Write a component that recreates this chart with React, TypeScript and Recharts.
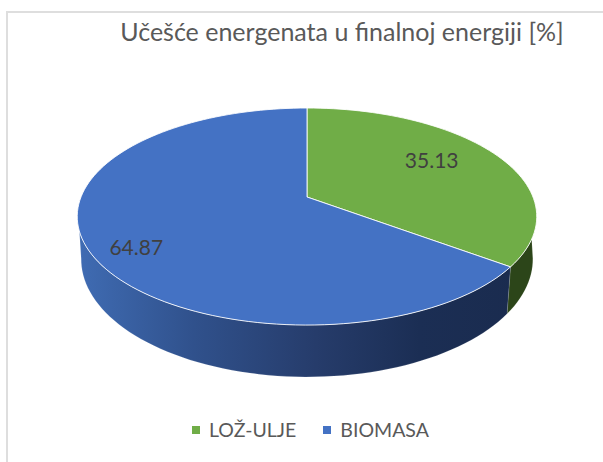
import React from "react";
import { PieChart, Pie, Cell, Legend } from "recharts";

const categories = ["LOŽ-ULJE", "BIOMASA"];
const shares = [35.13, 64.87];
const faceColors = ["#70AD47", "#4472C4"];
const wallFills = ["#2C4519", "url(#blueWall)"];
const chartTitle = "Učešće energenata u finalnoj energiji [%]";

const rows = categories.map((name, i) => ({ name, value: shares[i] }));

// Perspective projection of the unit disc onto the tilted pie
const TILT = 0.18;
const FACE_Y = 0.4646;
const BASE_X = 0.983;
const BASE_Y = 0.504;
const BASE_DROP = 41;
const FONT = "Lato, Carlito, sans-serif";
const RAD = Math.PI / 180;

function project(cx: number, cy: number, rx: number, ry: number, u: number, v: number) {
  const d = 1 - TILT * v;
  return [cx + (rx * u) / d, cy + (ry * v) / d];
}

function rim(cx: number, cy: number, rx: number, ry: number, from: number, to: number) {
  const pts: number[][] = [];
  const n = Math.max(2, Math.ceil(Math.abs(to - from) / 2));
  for (let i = 0; i <= n; i++) {
    const a = (from + ((to - from) * i) / n) * RAD;
    pts.push(project(cx, cy, rx, ry, Math.cos(a), -Math.sin(a)));
  }
  return pts;
}

const toPath = (pts: number[][]) =>
  pts.map((p, i) => `${i ? "L" : "M"}${p[0].toFixed(2)} ${p[1].toFixed(2)}`).join("") + "Z";

const clamp = (a: number, lo: number, hi: number) => Math.min(hi, Math.max(lo, a));

function Slice(props: any) {
  const { cx, cy, outerRadius: r, startAngle, endAngle, fill, name } = props;
  const idx = categories.indexOf(name);
  const rx = r;
  const ry = r * FACE_Y;
  const bx = r * BASE_X;
  const by = r * BASE_Y;
  const by0 = cy + BASE_DROP;
  const topFrom = clamp(startAngle, -162, -22);
  const topTo = clamp(endAngle, -162, -22);
  const lowFrom = clamp(startAngle, -170, -10);
  const lowTo = clamp(endAngle, -170, -10);
  const wall = [
    ...rim(cx, cy, rx, ry, topFrom, topTo),
    ...rim(cx, by0, bx, by, lowTo, lowFrom),
  ];
  const face = [[cx, cy], ...rim(cx, cy, rx, ry, startAngle, endAngle)];
  return (
    <g>
      {idx === 1 && (
        <defs>
          <linearGradient id="blueWall" gradientUnits="userSpaceOnUse" x1={cx - r} x2={cx + r} y1={0} y2={0}>
            <stop offset="0" stopColor="#3F6BB2" />
            <stop offset="0.25" stopColor="#30518C" />
            <stop offset="0.52" stopColor="#263C6B" />
            <stop offset="0.75" stopColor="#1B2E54" />
            <stop offset="1" stopColor="#1A2B4E" />
          </linearGradient>
        </defs>
      )}
      <path d={toPath(wall)} fill={wallFills[idx]} stroke="#FFFFFF" strokeOpacity={0.25} strokeWidth={0.5} />
      <path d={toPath(face)} fill={fill} stroke="#FFFFFF" strokeOpacity={0.85} strokeWidth={1} strokeLinejoin="round" />
    </g>
  );
}

const labelNudge = [
  [-9, -6],
  [-21, 14],
];

function SliceLabel(props: any) {
  const { cx, cy, outerRadius: r, midAngle, value, name } = props;
  const idx = categories.indexOf(name);
  const a = midAngle * RAD;
  const [x, y] = project(cx, cy, r, r * FACE_Y, 0.7 * Math.cos(a), -0.7 * Math.sin(a));
  return (
    <text
      x={x + labelNudge[idx][0]}
      y={y + labelNudge[idx][1]}
      textAnchor="middle"
      dominantBaseline="central"
      fontFamily={FONT}
      fontSize={21}
      fill="#404040"
    >
      {value.toFixed(2)}
    </text>
  );
}

function LegendRow(props: any) {
  const items = props.payload || [];
  return (
    <div style={{ display: "flex", alignItems: "center", fontFamily: FONT, fontSize: 19.5, color: "#595959", lineHeight: "24px" }}>
      {items.map((it: any, i: number) => (
        <span key={it.value} style={{ display: "inline-flex", alignItems: "center", marginRight: i === 0 ? 27 : 0 }}>
          <span style={{ width: 8, height: 8, background: it.color, marginRight: 9, display: "inline-block" }} />
          {it.value}
        </span>
      ))}
    </div>
  );
}

export default function App() {
  return (
    <div style={{ position: "absolute", left: 0, top: 0, width: 603, height: 462, overflow: "hidden", background: "#fff" }}>
      <div
        style={{
          position: "absolute",
          left: 6,
          top: 11,
          width: 597,
          height: 451,
          borderLeft: "2px solid #DEDEDE",
          borderTop: "2px solid #DEDEDE",
          boxSizing: "border-box",
        }}
      />
      <PieChart
        width={603}
        height={462}
        margin={{ top: 0, right: 0, bottom: 0, left: 0 }}
        style={{ position: "absolute", left: 0, top: 0 }}
      >
        <text x={342} y={31} dominantBaseline="central" textAnchor="middle" fontFamily={FONT} fontSize={25} fill="#595959">
          {chartTitle}
        </text>
        <Pie
          data={rows}
          dataKey="value"
          nameKey="name"
          cx={307}
          cy={197}
          outerRadius={226}
          startAngle={90}
          endAngle={-270}
          stroke="none"
          isAnimationActive={false}
          shape={Slice}
          label={SliceLabel}
          labelLine={false}
        >
          {rows.map((row, i) => (
            <Cell key={row.name} fill={faceColors[i]} />
          ))}
        </Pie>
        <Legend
          content={LegendRow}
          itemSorter={null}
          wrapperStyle={{ position: "absolute", left: 192, top: 418, width: 300, height: 24 }}
        />
      </PieChart>
    </div>
  );
}
